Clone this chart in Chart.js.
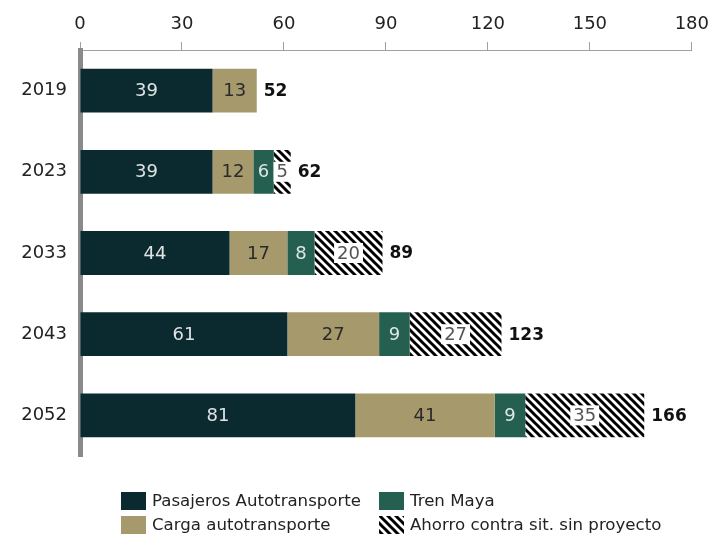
<!DOCTYPE html>
<html><head><meta charset="utf-8">
<script src="https://cdn.jsdelivr.net/npm/chart.js@4.4.1/dist/chart.umd.min.js"></script>
<style>html,body{margin:0;padding:0;background:#fff}</style>
</head><body>
<canvas id="c" width="716" height="534"></canvas>
<script>
const years = ['2019', '2023', '2033', '2043', '2052'];
const pasajeros = [39, 39, 44, 61, 81];
const carga = [13, 12, 17, 27, 41];
const trenMaya = [null, 6, 8, 9, 9];
const ahorro = [null, 5, 20, 27, 35];
const totals = [52, 62, 89, 123, 166];
const xTicks = [0, 30, 60, 90, 120, 150, 180];
const seriesNames = ['Pasajeros Autotransporte', 'Carga autotransporte', 'Tren Maya', 'Ahorro contra sit. sin proyecto'];

const FONT = '"DejaVu Sans", "Open Sans", sans-serif';

function hatch() {
  const s = 8;
  const c = document.createElement('canvas'); c.width = s; c.height = s;
  const g = c.getContext('2d');
  g.fillStyle = '#fff'; g.fillRect(0, 0, s, s);
  g.strokeStyle = '#000'; g.lineWidth = 3;
  g.beginPath();
  for (const o of [-s, 0, s]) { g.moveTo(o - 1, -1); g.lineTo(o + s + 1, s + 1); }
  g.stroke();
  return g.createPattern(c, 'repeat');
}
const hatchPattern = hatch();

const datasets = [
  { label: seriesNames[0], data: pasajeros, backgroundColor: '#0b2a2f', labelColor: '#dfe3e3' },
  { label: seriesNames[1], data: carga, backgroundColor: '#a69a6c', labelColor: '#2a2a2a' },
  { label: seriesNames[2], data: trenMaya, backgroundColor: '#245f50', labelColor: '#dfe6e3' },
  { label: seriesNames[3], data: ahorro, backgroundColor: hatchPattern, labelColor: '#555', hatch: true }
].map(d => Object.assign(d, { stack: 's', barPercentage: 0.54, categoryPercentage: 1, borderWidth: 0 }));

const labelsPlugin = {
  id: 'segLabels',
  afterDatasetsDraw(chart) {
    const ctx = chart.ctx;
    ctx.save();
    chart.data.datasets.forEach((ds, di) => {
      const meta = chart.getDatasetMeta(di);
      meta.data.forEach((el, i) => {
        const v = ds.data[i];
        if (v == null) return;
        const cx = (el.x + el.base) / 2, cy = el.y;
        ctx.font = '18px ' + FONT;
        ctx.textAlign = 'center'; ctx.textBaseline = 'middle';
        const t = String(v);
        if (ds.hatch) {
          const w = ctx.measureText(t).width + 6;
          ctx.fillStyle = '#fff';
          ctx.fillRect(cx - w / 2, cy - 10, w, 20);
        }
        ctx.fillStyle = ds.labelColor;
        ctx.fillText(t, cx, cy + 1);
      });
    });
    const xs = chart.scales.x;
    const meta0 = chart.getDatasetMeta(0);
    years.forEach((y, i) => {
      let end = 0;
      chart.data.datasets.forEach(ds => { end += ds.data[i] || 0; });
      const px = xs.getPixelForValue(end);
      const py = meta0.data[i].y;
      ctx.font = 'bold 17px ' + FONT;
      ctx.textAlign = 'left'; ctx.textBaseline = 'middle';
      ctx.fillStyle = '#111';
      ctx.fillText(String(totals[i]), px + 7, py + 1);
    });
    ctx.restore();
  }
};

const legendPlugin = {
  id: 'customLegend',
  afterDraw(chart) {
    const ctx = chart.ctx;
    const items = [
      { di: 0, x: 121, y: 492 }, { di: 2, x: 379, y: 492 },
      { di: 1, x: 121, y: 516 }, { di: 3, x: 379, y: 516 }
    ];
    ctx.save();
    items.forEach(it => {
      const ds = chart.data.datasets[it.di];
      ctx.fillStyle = ds.backgroundColor;
      ctx.fillRect(it.x, it.y, 25, 18);
      ctx.font = '16.6px ' + FONT;
      ctx.textAlign = 'left'; ctx.textBaseline = 'middle';
      ctx.fillStyle = '#222';
      ctx.fillText(ds.label, it.x + 31, it.y + 10);
    });
    ctx.restore();
  }
};

new Chart(document.getElementById('c'), {
  type: 'bar',
  data: { labels: years, datasets },
  options: {
    indexAxis: 'y',
    responsive: false,
    devicePixelRatio: 1,
    animation: false,
    layout: { padding: { left: 0, right: 19, top: 0, bottom: 78 } },
    plugins: { legend: { display: false }, tooltip: { enabled: false } },
    scales: {
      x: {
        position: 'top', stacked: true, min: 0, max: 180,
        afterBuildTicks: s => { s.ticks = xTicks.map(v => ({ value: v })); },
        afterFit: s => { s.height = 50; },
        grid: { drawOnChartArea: false, drawTicks: true, tickLength: 8, color: '#a0a0a0', lineWidth: 1 },
        border: { display: true, color: '#a0a0a0', width: 1 },
        ticks: { padding: 7, color: '#222', font: { family: FONT, size: 18 } }
      },
      y: {
        stacked: true, z: 1,
        afterFit: s => { s.width = 80; },
        grid: { display: false, drawTicks: false },
        border: { display: true, color: '#8a8a8a', width: 5 },
        ticks: { padding: 13, color: '#222', font: { family: FONT, size: 18 } }
      }
    }
  },
  plugins: [labelsPlugin, legendPlugin]
});
</script>
</body></html>
